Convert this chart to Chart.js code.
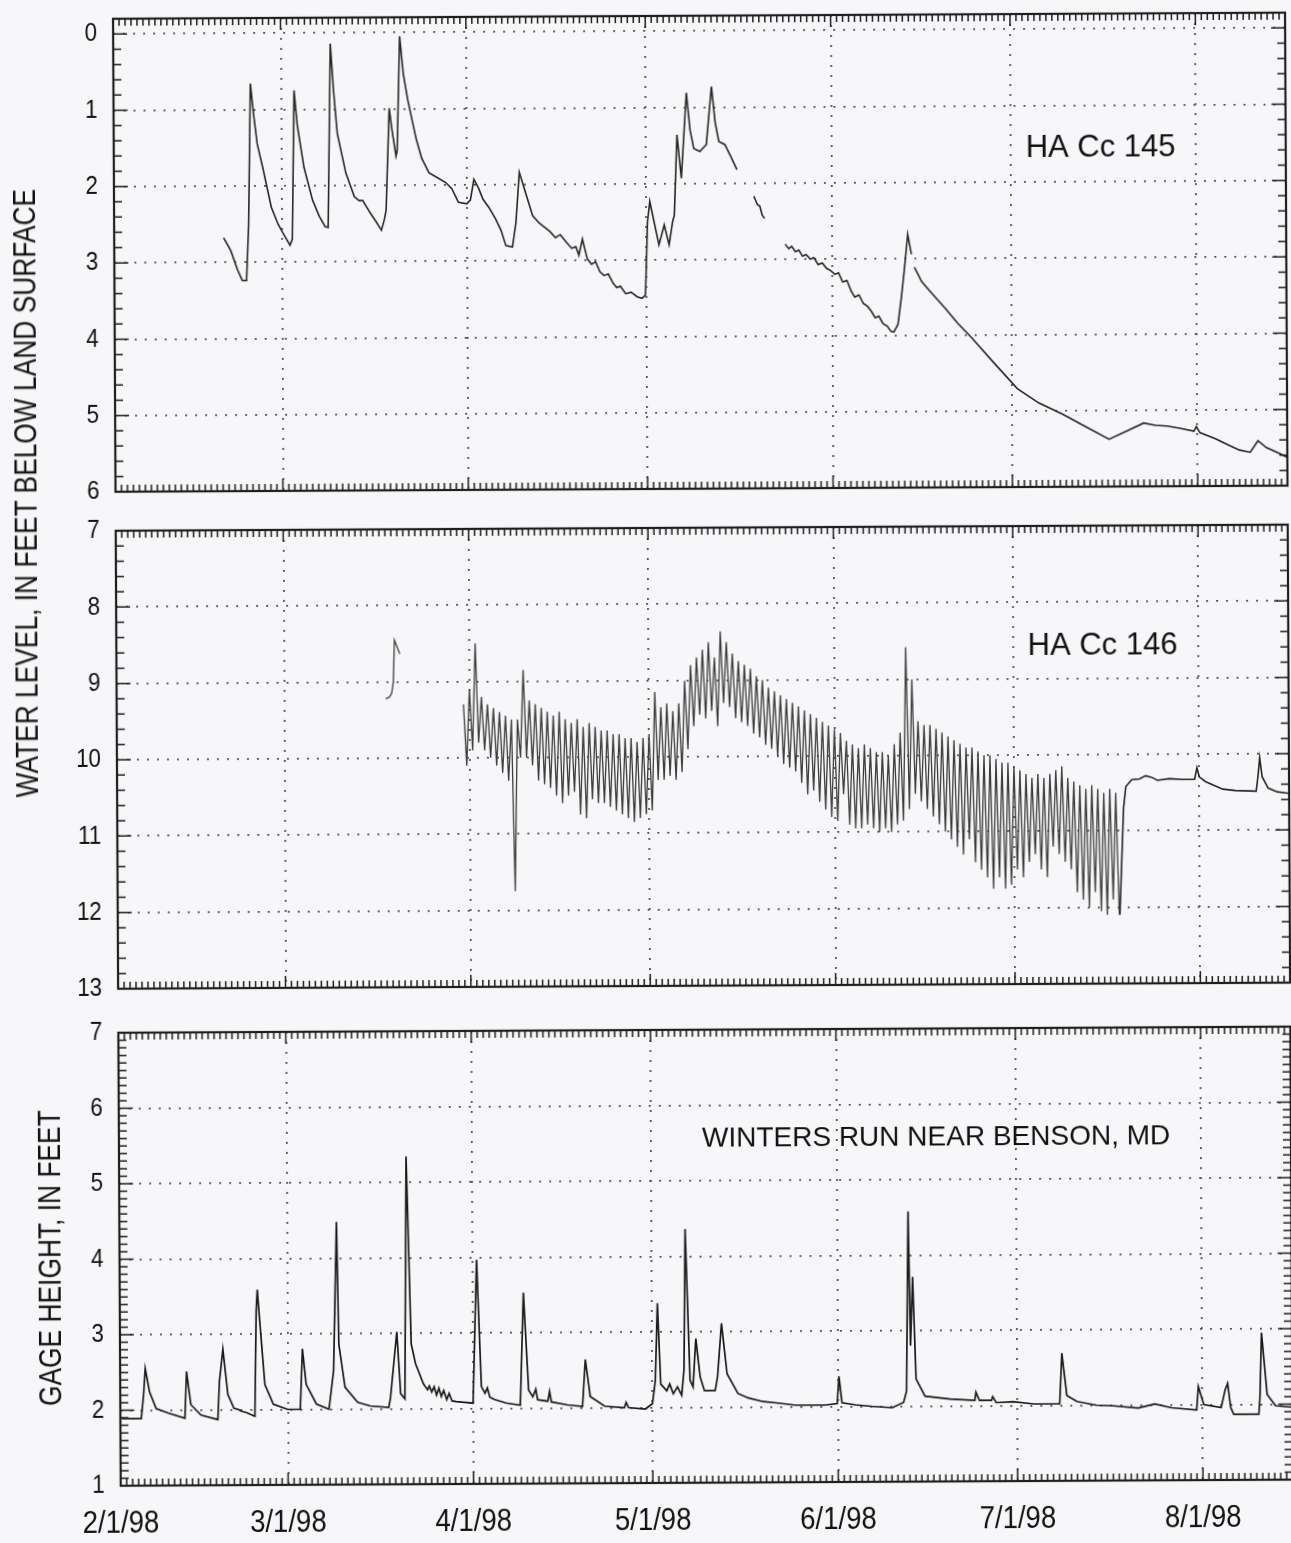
<!DOCTYPE html>
<html>
<head>
<meta charset="utf-8">
<title>Water levels, HA Cc 145 / HA Cc 146 and Winters Run gage height, 1998</title>
<script src="https://cdn.jsdelivr.net/npm/chart.js@4.4.1/dist/chart.umd.min.js"></script>
<style>
  html, body { margin: 0; padding: 0; background: #f7f7f9; }
  #page { position: relative; width: 1291px; height: 1543px; overflow: hidden;
          transform: rotate(-0.3deg); transform-origin: 50% 50%; }
  canvas { position: absolute; left: 0; }
  .ytitle { position: absolute; white-space: nowrap; color: #111;
            font: 31px "Liberation Sans", Arial, Helvetica, sans-serif;
            transform: translate(-50%, -50%) rotate(-90deg) scaleX(0.85); }
</style>
</head>
<body>
<div id="page">
  <canvas id="c145" width="1291" height="500" style="top:0px"></canvas>
  <canvas id="c146" width="1291" height="500" style="top:500px"></canvas>
  <canvas id="cGage" width="1291" height="543" style="top:1000px"></canvas>
  <div class="ytitle" style="left:28px; top:490px">WATER LEVEL, IN FEET BELOW LAND SURFACE</div>
  <div class="ytitle" style="left:48px; top:1255px">GAGE HEIGHT, IN FEET</div>
</div>
<script>
// x values are days after 2/1/98
const monthDays = [0, 28, 59, 89, 120, 150, 181];
const monthLabels = ["2/1/98", "3/1/98", "4/1/98", "5/1/98", "6/1/98", "7/1/98", "8/1/98"];
const ticks145 = [0, 1, 2, 3, 4, 5, 6];
const ticks146 = [7, 8, 9, 10, 11, 12, 13];
const ticksGage = [1, 2, 3, 4, 5, 6, 7];

// HA Cc 145, feet below land surface (null = no record)
const days145 = [18.3, 19.5, 20.6, 21.4, 22.1, 22.5, 22.9, 23.4, 24.0, 24.9, 26.3, 27.4, 28.3, 29.4, 29.8,
  30.2, 30.7, 31.8, 33.2, 34.3, 35.3, 35.8, 36.3, 36.8, 37.4, 38.8, 40.2, 41.0, 41.6, 42.9, 44.0, 44.7,
  45.2, 45.5, 46.1, 46.5, 47.2, 47.4, 47.9, 48.5, 49.2, 50.6, 51.5, 52.7, 54.0, 55.5, 56.5, 57.6, 59.0,
  59.6, 60.2, 61.0, 61.7, 62.7, 63.8, 64.7, 65.5, 66.6, 67.2, 67.8, 68.8, 70.0, 71.0, 71.8, 72.9, 73.8,
  74.6, 75.6, 76.5, 77.2, 77.7, 78.3, 79.1, 79.8, 80.5, 81.2, 81.9, 82.6, 83.4, 84.0, 84.6, 85.5, 86.4,
  87.4, 88.2, 88.8, 89.2, 89.6, 90.3, 91.1, 92.0, 92.8, 93.4, 93.7, 94.2, 94.9, 95.8, 96.4, 97.0, 98.0,
  99.1, 100.0, 100.6, 101.2, 102.2, 103.2, 104.2, 105.5,
  107.0, 107.6, 108.0, 108.4, 108.8, 110.5,
  112.2, 112.8, 113.3, 113.9, 114.5, 115.1, 115.7, 116.4, 117.0, 117.7, 118.4, 119.1, 119.8, 120.5, 121.1,
  121.8, 122.5, 123.2, 123.8, 124.5, 125.2, 125.9, 126.5, 127.2, 127.8, 128.5, 129.2, 129.8, 130.3, 131.0,
  131.6, 132.1, 132.7, 133.3, 133.55, 133.8, 135.0, 136.2, 139.0, 141.0, 143.2, 147.0, 150.9, 154.5, 158.5,
  162.0, 166.2, 169.0, 172.0, 174.0, 175.9, 178.0, 180.4, 180.8, 181.4, 184.0, 186.3, 188.0, 189.8, 191.1,
  192.5, 194.5, 196.0];
const level145 = [2.68, 2.85, 3.10, 3.24, 3.24, 2.50, 0.66, 1.05, 1.45, 1.76, 2.28, 2.50, 2.63, 2.78, 2.70,
  0.75, 1.20, 1.76, 2.19, 2.40, 2.54, 2.55, 0.14, 0.75, 1.32, 1.84, 2.15, 2.20, 2.20, 2.37, 2.50, 2.59,
  2.45, 2.33, 0.99, 1.25, 1.62, 1.55, 0.05, 0.55, 0.88, 1.40, 1.65, 1.84, 1.90, 1.97, 2.05, 2.23, 2.25,
  2.20, 1.93, 2.05, 2.19, 2.30, 2.45, 2.60, 2.80, 2.82, 2.50, 1.84, 2.10, 2.41, 2.50, 2.55, 2.62, 2.70,
  2.66, 2.76, 2.84, 2.82, 2.93, 2.72, 2.98, 3.05, 3.02, 3.15, 3.20, 3.18, 3.30, 3.36, 3.34, 3.44, 3.42,
  3.48, 3.50, 3.46, 2.50, 2.23, 2.50, 2.80, 2.54, 2.80, 2.50, 2.41, 1.36, 1.93, 0.81, 1.30, 1.54, 1.58,
  1.49, 0.73, 1.20, 1.45, 1.49, 1.65, 1.82, null,
  2.17, 2.28, 2.30, 2.42, 2.46, null,
  2.80, 2.86, 2.83, 2.90, 2.88, 2.96, 2.94, 3.00, 2.98, 3.07, 3.05, 3.12, 3.15, 3.20, 3.18,
  3.30, 3.28, 3.42, 3.50, 3.47, 3.58, 3.62, 3.68, 3.77, 3.75, 3.85, 3.88, 3.95, 3.96, 3.86,
  3.50, 3.15, 2.68, 2.94, null, 3.11, 3.30, 3.41, 3.66, 3.85, 4.03, 4.37, 4.71, 4.90, 5.05,
  5.20, 5.38, 5.28, 5.17, 5.20, 5.21, 5.24, 5.28, 5.22, 5.30, 5.38, 5.47, 5.53, 5.56, 5.41,
  5.50, 5.57, 5.63];

// HA Cc 146: short record in March, then daily pumping cycles, then recovery
const days146Early = [45.0, 45.6, 46.0, 46.3, 46.5, 47.4];
const level146Early = [9.22, 9.20, 9.15, 9.00, 8.45, 8.63];
const firstCycleDay146 = 58;
const high146 = [9.30, 9.10, 8.50, 9.20, 9.30, 9.35, 9.40, 9.45, 9.50, 9.50,
  8.85, 9.25, 9.30, 9.35, 9.40, 9.45, 9.40, 9.50, 9.55, 9.50,
  9.60, 9.55, 9.60, 9.65, 9.65, 9.70, 9.70, 9.75, 9.75, 9.80,
  9.75, 9.70, 9.15, 9.35, 9.30, 9.40, 9.30, 9.00, 8.80, 8.70,
  8.60, 8.50, 8.70, 8.36, 8.50, 8.65, 8.75, 8.80, 8.85, 8.95,
  9.00, 9.10, 9.15, 9.20, 9.25, 9.30, 9.35, 9.40, 9.45, 9.50,
  9.55, 9.60, 9.65, 9.70, 9.80, 9.85, 9.90, 9.85, 9.90, 9.95,
  9.95, 10.00, 9.85, 9.70, 8.58, 9.00, 9.55, 9.60, 9.60, 9.65,
  9.70, 9.75, 9.80, 9.85, 9.90, 9.90, 9.95, 10.00, 10.00, 10.05,
  10.10, 10.10, 10.15, 10.20, 10.25, 10.30, 10.25, 10.30, 10.25, 10.20,
  10.15, 10.30, 10.35, 10.40, 10.45, 10.40, 10.45, 10.50, 10.45, 10.50];
const low146 = [10.10, 9.90, 9.80, 9.90, 10.00, 10.10, 10.20, 10.30, 11.75, 10.00,
  10.00, 10.10, 10.30, 10.35, 10.40, 10.50, 10.60, 10.50, 10.45, 10.75,
  10.80, 10.55, 10.60, 10.60, 10.65, 10.70, 10.75, 10.80, 10.85, 10.80,
  10.75, 10.70, 10.30, 10.30, 10.25, 10.30, 10.20, 9.90, 9.60, 9.45,
  9.50, 9.40, 9.60, 9.30, 9.35, 9.50, 9.55, 9.60, 9.70, 9.75,
  9.85, 9.90, 10.00, 10.10, 10.15, 10.20, 10.35, 10.50, 10.45, 10.60,
  10.70, 10.80, 10.85, 10.50, 10.90, 10.95, 10.95, 10.90, 10.95, 11.00,
  10.95, 11.00, 10.90, 10.85, 10.70, 10.50, 10.60, 10.70, 10.80, 10.90,
  11.00, 11.10, 11.20, 11.30, 11.10, 11.40, 11.50, 11.60, 11.75, 11.60,
  11.75, 11.70, 11.50, 11.60, 11.40, 11.30, 11.50, 11.60, 11.20, 11.30,
  11.40, 11.50, 11.80, 11.90, 12.00, 11.80, 12.05, 12.10, 11.90, 12.10];
const days146Late = [167.6, 168.3, 168.7, 169.7, 171.0, 172.0, 173.0, 174.0, 176.0, 178.0, 180.2, 180.6,
  181.0, 182.0, 184.9, 187.0, 190.5, 190.8, 191.1, 191.5, 192.5, 194.0, 196.0];
const level146Late = [12.10, 10.70, 10.42, 10.33, 10.32, 10.28, 10.30, 10.34, 10.32, 10.33, 10.33, 10.18,
  10.30, 10.36, 10.46, 10.48, 10.49, 10.30, 10.05, 10.30, 10.45, 10.50, 10.52];

// Winters Run near Benson, MD, gage height in feet
const daysGage = [0.1, 0.4, 3.5, 3.9, 4.2, 4.9, 6.0, 8.0, 10.8, 11.1, 11.8, 13.5, 16.3, 16.6, 17.2, 18.0,
  19.0, 19.8, 20.2, 21.1, 22.5, 22.8, 23.0, 23.3, 24.2, 25.6, 28.0, 30.1, 30.5, 31.1, 32.8, 34.9, 35.7,
  36.3, 36.6, 37.6, 39.7, 41.8, 44.9, 45.2, 46.3, 46.9, 47.6, 48.0, 48.7, 49.4, 50.7, 51.4, 51.7, 52.1,
  52.5, 52.9, 53.3, 53.7, 54.1, 54.6, 55.0, 55.5, 56.2, 57.5, 59.0, 59.7, 60.4, 61.0, 61.4, 61.8, 62.5,
  64.5, 66.9, 67.5, 68.3, 69.0, 69.5, 69.8, 71.5, 71.8, 72.1, 74.8, 77.3, 77.8, 78.6, 81.0, 84.3, 84.6,
  85.0, 87.8, 89.0, 89.5, 89.9, 90.4, 91.4, 91.9, 92.5, 93.2, 93.9, 94.3, 94.6, 95.3, 95.8, 96.3, 97.0,
  97.7, 99.5, 99.9, 100.6, 101.5, 103.3, 105.0, 107.5, 110.0, 113.0, 117.9, 119.9, 120.2, 120.7, 123.0,
  125.6, 129.1, 131.0, 131.5, 131.9, 132.2, 132.6, 133.1, 134.6, 138.8, 142.9, 143.1, 143.7, 145.7, 145.9,
  146.5, 149.3, 152.8, 157.1, 157.5, 158.3, 160.0, 163.2, 166.0, 170.2, 173.0, 175.8, 180.0, 180.3, 181.2,
  184.1, 184.8, 185.2, 185.7, 186.2, 190.4, 190.6, 190.9, 191.8, 193.2, 195.9];
const gage = [1.90, 1.89, 1.89, 2.20, 2.55, 2.24, 2.02, 1.96, 1.89, 2.51, 2.07, 1.93, 1.87, 2.38, 2.80, 2.20,
  2.02, 2.00, 1.98, 1.96, 1.91, 3.30, 3.59, 3.26, 2.33, 2.07, 2.00, 2.00, 2.80, 2.33, 2.07, 2.00, 2.51,
  4.48, 2.86, 2.29, 2.09, 2.04, 2.02, 2.15, 3.02, 2.20, 2.13, 5.34, 2.86, 2.60, 2.33, 2.25, 2.30, 2.22,
  2.29, 2.18, 2.27, 2.16, 2.24, 2.12, 2.20, 2.10, 2.09, 2.08, 2.07, 3.97, 2.29, 2.20, 2.27, 2.15, 2.12,
  2.07, 2.04, 3.53, 2.24, 2.15, 2.25, 2.11, 2.09, 2.22, 2.08, 2.04, 2.02, 2.64, 2.15, 2.02, 2.00, 2.07,
  2.00, 1.98, 2.05, 2.36, 3.38, 2.31, 2.22, 2.31, 2.18, 2.27, 2.16, 2.50, 4.36, 2.36, 2.27, 2.91, 2.40,
  2.22, 2.22, 2.40, 3.11, 2.44, 2.18, 2.12, 2.07, 2.05, 2.02, 2.02, 2.04, 2.40, 2.05, 2.02,
  2.00, 1.98, 2.05, 2.20, 4.58, 2.80, 3.71, 2.36, 2.13, 2.09, 2.07, 2.18, 2.07, 2.07, 2.12,
  2.04, 2.05, 2.02, 2.02, 2.69, 2.13, 2.05, 2.00, 1.99, 1.96, 2.01, 1.96, 1.93, 2.24, 2.00,
  1.96, 2.20, 2.28, 1.96, 1.87, 1.87, 2.10, 2.95, 2.13, 1.98, 1.96];

const SANS = '"Liberation Sans", Arial, Helvetica, sans-serif';

function toPoints(xs, ys) {
  return xs.map((x, i) => ({ x: x, y: ys[i] }));
}

const points145 = toPoints(days145, level145);

const points146 = toPoints(days146Early, level146Early);
points146.push({ x: 52, y: null });
high146.forEach((h, i) => {
  points146.push({ x: firstCycleDay146 + i, y: h });
  points146.push({ x: firstCycleDay146 + i + 0.5, y: low146[i] });
});
const points146Late = toPoints(days146Late, level146Late);

const pointsGage = toPoints(daysGage, gage);

// condensed text, like the narrow type face of the original figure
function narrowText(ctx, text, px, py, size, squeeze, align, baseline) {
  ctx.save();
  ctx.translate(px, py);
  ctx.scale(squeeze, 1);
  ctx.font = size + "px " + SANS;
  ctx.textAlign = align;
  ctx.textBaseline = baseline;
  ctx.fillText(text, 0, 0);
  ctx.restore();
}

// border frame with inward tick marks, tick labels and the panel label
const framePlugin = {
  id: "frame",
  afterDraw(chart, args, opts) {
    const { ctx, chartArea: a, scales: { x, y } } = chart;
    ctx.save();
    ctx.strokeStyle = "#1e1e1e";
    ctx.lineWidth = 1.5;
    ctx.beginPath();
    for (let d = 0; d <= x.max; d++) {
      const px = x.getPixelForValue(d);
      const len = monthDays.includes(d) ? 12 : 7;
      ctx.moveTo(px, a.top); ctx.lineTo(px, a.top + len);
      ctx.moveTo(px, a.bottom); ctx.lineTo(px, a.bottom - len);
    }
    const step = opts.minorStep;
    const k0 = Math.ceil(y.min / step - 1e-6), k1 = Math.floor(y.max / step + 1e-6);
    for (let k = k0; k <= k1; k++) {
      const v = k * step;
      const major = Math.abs(v - Math.round(v)) < 1e-6;
      const len = major ? 14 : 8;
      const py = y.getPixelForValue(v);
      ctx.moveTo(a.left, py); ctx.lineTo(a.left + len, py);
      ctx.moveTo(a.right, py); ctx.lineTo(a.right - len, py);
    }
    ctx.stroke();
    ctx.lineWidth = 2.2;
    ctx.strokeRect(a.left, a.top, a.right - a.left, a.bottom - a.top);

    ctx.fillStyle = "#111";
    opts.yTicks.forEach(v => {
      narrowText(ctx, String(v), a.left - 16, y.getPixelForValue(v), 26, 0.86, "right", "middle");
    });
    if (opts.showX) {
      monthDays.forEach((d, i) => {
        narrowText(ctx, monthLabels[i], x.getPixelForValue(d), a.bottom + 47, 32, 0.86, "center", "alphabetic");
      });
    }

    const lab = opts.label;
    ctx.font = lab.size + "px " + SANS;
    ctx.textBaseline = "alphabetic";
    ctx.textAlign = "left";
    ctx.fillText(lab.text, x.getPixelForValue(lab.day), y.getPixelForValue(lab.value));
    ctx.restore();
  }
};

function line(points, color, width) {
  return { data: points, borderColor: color, borderWidth: width, pointRadius: 0, tension: 0, spanGaps: false };
}

function makePanel(id, datasets, cfg) {
  return new Chart(document.getElementById(id), {
    type: "line",
    data: { datasets: datasets },
    options: {
      responsive: false,
      animation: false,
      events: [],
      layout: { padding: cfg.padding },
      plugins: {
        legend: { display: false },
        tooltip: { enabled: false },
        frame: { minorStep: cfg.minorStep, label: cfg.label, yTicks: cfg.ticks, showX: cfg.showX }
      },
      scales: {
        x: {
          type: "linear",
          min: 0,
          max: 196,
          afterBuildTicks: s => { s.ticks = monthDays.map(v => ({ value: v })); },
          afterFit: s => { s.height = cfg.xHeight; s.paddingLeft = 0; s.paddingRight = 0; },
          grid: { color: "#555", lineWidth: 1.8, drawTicks: false },
          border: { display: false, dash: [2, 8] },
          ticks: { display: false }
        },
        y: {
          type: "linear",
          min: cfg.min,
          max: cfg.max,
          reverse: cfg.reverse,
          afterBuildTicks: s => { s.ticks = cfg.ticks.map(v => ({ value: v })); },
          afterFit: s => { s.width = 117; s.paddingTop = 0; s.paddingBottom = 0; },
          grid: { color: "#555", lineWidth: 1.8, drawTicks: false },
          border: { display: false, dash: [2, 8] },
          ticks: { display: false }
        }
      }
    },
    plugins: [framePlugin]
  });
}

makePanel("c145", [line(points145, "#262626", 1.6)], {
  padding: { left: 0, right: 2, top: 16, bottom: 11 },
  xHeight: 0, showX: false,
  min: -0.2, max: 6, reverse: true, ticks: ticks145, minorStep: 0.2,
  label: { text: "HA Cc 145", day: 152.5, value: 1.68, size: 31 }
});

makePanel("c146", [line(points146, "#3c3c3c", 1.3), line(points146Late, "#262626", 1.6)], {
  padding: { left: 0, right: 2, top: 28, bottom: 14 },
  xHeight: 0, showX: false,
  min: 7, max: 13, reverse: true, ticks: ticks146, minorStep: 0.2,
  label: { text: "HA Cc 146", day: 152.4, value: 8.69, size: 31 }
});

makePanel("cGage", [line(pointsGage, "#1a1a1a", 1.7)], {
  padding: { left: 0, right: 2, top: 30, bottom: 0 },
  xHeight: 60, showX: true,
  min: 1, max: 7, reverse: false, ticks: ticksGage, minorStep: 0.1,
  label: { text: "WINTERS RUN NEAR BENSON, MD", day: 97.5, value: 5.45, size: 28 }
});
</script>
</body>
</html>
